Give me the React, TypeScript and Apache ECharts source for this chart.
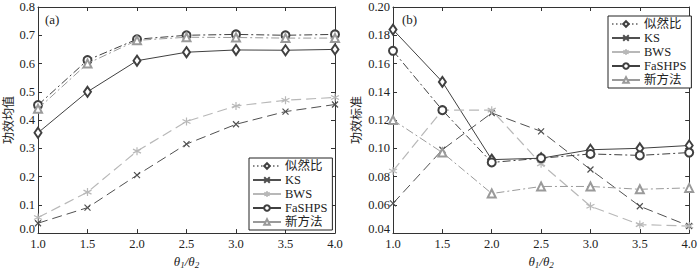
import React, { useEffect, useRef } from "react";
import * as echarts from "echarts";

const ratios = [1.0, 1.5, 2.0, 2.5, 3.0, 3.5, 4.0];
const seriesNames = ["似然比", "KS", "BWS", "FaSHPS", "新方法"];

// (a) power mean
const meanLR = [0.355, 0.5, 0.61, 0.64, 0.648, 0.647, 0.65];
const meanKS = [0.035, 0.09, 0.205, 0.315, 0.385, 0.43, 0.455];
const meanBWS = [0.055, 0.145, 0.29, 0.395, 0.45, 0.47, 0.48];
const meanFa = [0.453, 0.612, 0.686, 0.7, 0.703, 0.7, 0.703];
const meanNew = [0.44, 0.6, 0.682, 0.693, 0.692, 0.69, 0.69];

// (b) power std
const stdLR = [0.184, 0.147, 0.092, 0.093, 0.099, 0.1, 0.102];
const stdKS = [0.061, 0.099, 0.125, 0.112, 0.085, 0.059, 0.045];
const stdBWS = [0.084, 0.127, 0.127, 0.089, 0.059, 0.046, 0.045];
const stdFa = [0.169, 0.127, 0.09, 0.093, 0.096, 0.095, 0.097];
const stdNew = [0.12, 0.097, 0.068, 0.073, 0.073, 0.071, 0.072];

const SERIF = "Liberation Serif";
const CJK = "Noto Sans CJK SC";

const CROSS = "path://M0,0L10,10M10,0L0,10";
const STAR = "path://M5,0L5,10M0.7,2.5L9.3,7.5M0.7,7.5L9.3,2.5";

const DARK = "#404040";
const MID = "#505050";
const LIGHT = "#b8b8b8";
const TRI = "#9a9a9a";

const styles: any[] = [
  { symbol: "emptyDiamond", size: [7, 10], color: DARK, type: "solid", width: 1 },
  { symbol: CROSS, size: 6, color: MID, type: [10, 5], width: 1 },
  { symbol: STAR, size: 8, color: LIGHT, type: [10, 5], width: 1.2 },
  { symbol: "emptyCircle", size: 8, color: DARK, type: [8, 3, 2, 3], width: 1 },
  { symbol: "emptyTriangle", size: 8, color: TRI, type: [8, 3, 2, 3], width: 1 },
];

function mk(name: string, idx: number, values: number[], axis: number) {
  const s = styles[seriesNames.indexOf(name)];
  const isPath = s.symbol.startsWith("path");
  return {
    type: "line",
    name,
    xAxisIndex: axis * 2,
    yAxisIndex: axis * 2,
    data: ratios.map((x, i) => [x, values[i]]),
    symbol: s.symbol,
    symbolSize: s.size,
    showAllSymbol: true,
    lineStyle: { color: s.color, width: s.width, type: s.type },
    itemStyle: isPath
      ? { color: s.color, borderColor: s.color, borderWidth: 1.2 }
      : { color: s.color, borderWidth: 1.1 },
    z: 3 + idx,
  };
}

const legendData = [
  { name: "似然比", lineStyle: { type: [1.5, 2.5], color: "#888" } },
  { name: "KS", lineStyle: { type: "solid", color: MID } },
  { name: "BWS", lineStyle: { type: "solid", color: LIGHT } },
  { name: "FaSHPS", lineStyle: { type: "solid", color: DARK } },
  { name: "新方法", lineStyle: { type: "solid", color: TRI } },
];

function legendAt(left: number, top: number) {
  return {
    data: legendData,
    orient: "vertical",
    left,
    top,
    itemWidth: 28,
    itemHeight: 7,
    itemGap: 0,
    padding: [1, 5, 1, 3],
    borderColor: "#222",
    borderWidth: 1,
    backgroundColor: "#fff",
    textStyle: { fontFamily: `${SERIF}, ${CJK}`, fontSize: 12.5, lineHeight: 14, color: "#222", padding: [0, 0, 0, -1] },
    selectedMode: false,
  };
}

const axisNameRich = {
  i: { fontFamily: SERIF, fontStyle: "italic", fontSize: 13, color: "#222" },
  s: { fontFamily: SERIF, fontStyle: "italic", fontSize: 9, color: "#222", verticalAlign: "bottom", padding: [6, 0, 0, 0] },
};

function xAxes(grid: number) {
  return [
    {
      type: "value",
      gridIndex: grid,
      min: 1,
      max: 4,
      interval: 0.5,
      position: "bottom",
      axisLine: { onZero: false, lineStyle: { color: "#333" } },
      axisTick: { inside: true, length: 4, lineStyle: { color: "#333" } },
      axisLabel: {
        formatter: (v: number) => v.toFixed(1),
        fontFamily: SERIF,
        fontSize: 12.5,
        color: "#222",
        margin: 4,
      },
      splitLine: { show: false },
      name: "{i|θ}{s|1}{i|/θ}{s|2}",
      nameLocation: "middle",
      nameGap: 20,
      nameTextStyle: { rich: axisNameRich },
    },
    {
      type: "value",
      gridIndex: grid,
      min: 1,
      max: 4,
      interval: 0.5,
      position: "top",
      axisLine: { onZero: false, lineStyle: { color: "#333" } },
      axisTick: { inside: true, length: 4, lineStyle: { color: "#333" } },
      axisLabel: { show: false },
      splitLine: { show: false },
    },
  ];
}

function yAxes(grid: number, min: number, max: number, interval: number, digits: number, name: string) {
  return [
    {
      type: "value",
      gridIndex: grid,
      min,
      max,
      interval,
      position: "left",
      axisLine: { onZero: false, lineStyle: { color: "#333" } },
      axisTick: { inside: true, length: 4, lineStyle: { color: "#333" } },
      axisLabel: {
        formatter: (v: number) => {
          const t = v.toFixed(digits);
          return Math.abs(v - min) < 1e-9 ? `{m|${t}}` : t;
        },
        fontFamily: SERIF,
        fontSize: 12.5,
        color: "#222",
        margin: 3,
        rich: { m: { fontFamily: SERIF, fontSize: 12.5, color: "#222", padding: [0, 0, 8, 0] } },
      },
      splitLine: { show: false },
      name,
      nameLocation: "middle",
      nameGap: digits === 1 ? 25 : 32,
      nameTextStyle: { fontFamily: CJK, fontSize: 12, color: "#222" },
    },
    {
      type: "value",
      gridIndex: grid,
      min,
      max,
      interval,
      position: "right",
      axisLine: { onZero: false, lineStyle: { color: "#333" } },
      axisTick: { inside: true, length: 4, lineStyle: { color: "#333" } },
      axisLabel: { show: false },
      splitLine: { show: false },
    },
  ];
}

export default function App() {
  const ref = useRef<HTMLDivElement>(null);
  useEffect(() => {
    if (!ref.current) return;
    const chart = echarts.init(ref.current, undefined, { renderer: "svg" });
    const aVals = [meanLR, meanKS, meanBWS, meanFa, meanNew];
    const bVals = [stdLR, stdKS, stdBWS, stdFa, stdNew];
    const series: any[] = [];
    seriesNames.forEach((n, i) => series.push(mk(n, i, aVals[i], 0)));
    seriesNames.forEach((n, i) => series.push(mk(n, i, bVals[i], 1)));
    chart.setOption({
      animation: false,
      backgroundColor: "#fff",
      grid: [
        { left: 36, top: 7, width: 299, bottom: 31 },
        { left: 393, top: 7, width: 298, bottom: 31 },
      ],
      xAxis: [...xAxes(0), ...xAxes(1)],
      yAxis: [...yAxes(0, 0, 0.8, 0.1, 1, "功效均值"), ...yAxes(1, 0.04, 0.2, 0.02, 2, "功效标准")],
      legend: [legendAt(249, 158), legendAt(608, 16)],
      series,
      graphic: [
        { type: "text", left: 45, top: 13, style: { text: "(a)", font: `13px ${SERIF}`, fill: "#222" } },
        { type: "text", left: 402, top: 13, style: { text: "(b)", font: `13px ${SERIF}`, fill: "#222" } },
      ],
    });
    return () => chart.dispose();
  }, []);
  return <div ref={ref} style={{ width: 700, height: 274, position: "absolute", left: 0, top: 0 }} />;
}
